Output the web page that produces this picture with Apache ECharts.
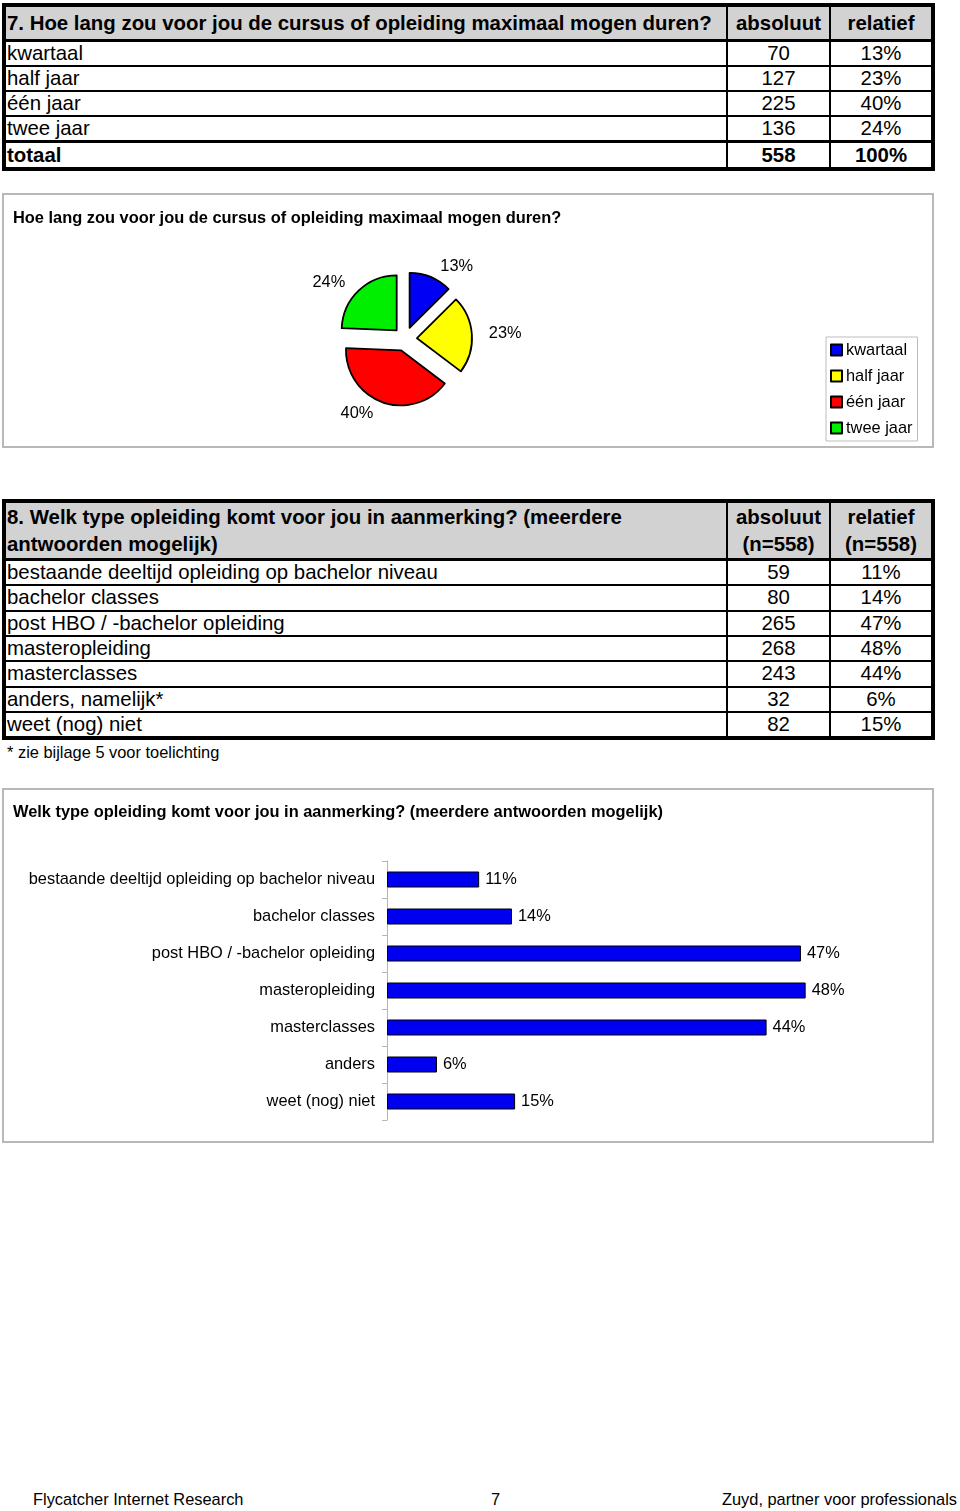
<!DOCTYPE html>
<html>
<head>
<meta charset="utf-8">
<script src="https://cdn.jsdelivr.net/npm/echarts@6/dist/echarts.min.js"></script>
<style>
  html, body { margin:0; padding:0; background:#fff; }
  body { width:960px; height:1511px; position:relative; font-family:"Liberation Sans", Arial, Helvetica, sans-serif; color:#000; }
  table.t { position:absolute; left:2px; width:933px; border-collapse:collapse; table-layout:fixed; border:4px solid #000; font-size:20.4px; }
  table.t td { border:2px solid #000; padding:0 0 0 1px; height:23px; line-height:23px; white-space:nowrap; overflow:hidden; }
  table.t td.n { text-align:center; padding:0; }
  table.t tr.h td { background:#d2d2d2; font-weight:bold; border-bottom:3px solid #000; }
  table.t tr.tot td { font-weight:bold; border-top:3px solid #000; height:24px; line-height:24px; }
  #t2 td { height:23.35px; line-height:23.35px; }
  .box { position:absolute; left:2px; width:928px; border:2px solid #b8b8b8; }
  .note { position:absolute; left:7px; font-size:16.4px; }
  .foot { position:absolute; top:1490px; font-size:16.4px; }
</style>
</head>
<body>
<table class="t" id="t1" style="top:3px"></table>
<div class="box" id="c1" style="top:193px;height:251px"></div>
<table class="t" id="t2" style="top:499px"></table>
<div class="note" style="top:743px">* zie bijlage 5 voor toelichting</div>
<div class="box" id="c2" style="top:788px;height:351px"></div>
<div class="foot" style="left:33px">Flycatcher Internet Research</div>
<div class="foot" style="left:491px">7</div>
<div class="foot" style="right:3px">Zuyd, partner voor professionals</div>
<script>
// ---- data: question 7 ----
var title1 = '7. Hoe lang zou voor jou de cursus of opleiding maximaal mogen duren?';
var chartTitle1 = 'Hoe lang zou voor jou de cursus of opleiding maximaal mogen duren?';
var categories1 = ['kwartaal', 'half jaar', 'één jaar', 'twee jaar'];
var absoluut1 = [70, 127, 225, 136];
var relatief1 = [13, 23, 40, 24];
var totaalAbs1 = 558;
var totaalRel1 = 100;
var colors1 = ['#0000f4', '#ffff00', '#ff0000', '#00ee00'];

// ---- data: question 8 ----
var title2a = '8. Welk type opleiding komt voor jou in aanmerking? (meerdere';
var title2b = 'antwoorden mogelijk)';
var chartTitle2 = 'Welk type opleiding komt voor jou in aanmerking? (meerdere antwoorden mogelijk)';
var tableLabels2 = ['bestaande deeltijd opleiding op bachelor niveau', 'bachelor classes', 'post HBO / -bachelor opleiding', 'masteropleiding', 'masterclasses', 'anders, namelijk*', 'weet (nog) niet'];
var barLabels2 = ['bestaande deeltijd opleiding op bachelor niveau', 'bachelor classes', 'post HBO / -bachelor opleiding', 'masteropleiding', 'masterclasses', 'anders', 'weet (nog) niet'];
var absoluut2 = [59, 80, 265, 268, 243, 32, 82];
var relatief2 = [11, 14, 47, 48, 44, 6, 15];
var n2 = 558;

// ---- tables ----
function row(cls, cells) {
  var h = '<tr' + (cls ? ' class="' + cls + '"' : '') + '>';
  cells.forEach(function (c, i) { h += '<td' + (i > 0 ? ' class="n"' : '') + (c[1] ? ' style="' + c[1] + '"' : '') + '>' + c[0] + '</td>'; });
  return h + '</tr>';
}
var colg = '<colgroup><col style="width:723px"><col style="width:103px"><col style="width:103px"></colgroup>';
var h1 = colg + row('h', [[title1, 'height:32px;line-height:32px'], ['absoluut'], ['relatief']]);
categories1.forEach(function (c, i) { h1 += row('', [[c], [absoluut1[i]], [relatief1[i] + '%']]); });
h1 += row('tot', [['totaal'], [totaalAbs1], [totaalRel1 + '%']]);
document.getElementById('t1').innerHTML = h1;

var hs = 'height:55px;line-height:27px';
var h2 = colg + row('h', [[title2a + '<br>' + title2b, hs], ['absoluut<br>(n=' + n2 + ')', hs], ['relatief<br>(n=' + n2 + ')', hs]]);
tableLabels2.forEach(function (c, i) { h2 += row('', [[c], [absoluut2[i]], [relatief2[i] + '%']]); });
document.getElementById('t2').innerHTML = h2;

var FONT = '"Liberation Sans", Arial, Helvetica, sans-serif';
var FS = 16.4;

// ---- pie chart ----
var c1 = echarts.init(document.getElementById('c1'));
c1.setOption({
  animation: false,
  textStyle: { fontFamily: FONT },
  title: { text: chartTitle1, left: 9, top: 15, padding: 0, textStyle: { fontFamily: FONT, fontSize: FS, fontWeight: 'bold', color: '#000' } },
  legend: {
    orient: 'vertical', left: 822, top: 142, padding: [5, 5, 5, 4], itemGap: 10,
    itemWidth: 11, itemHeight: 11, icon: 'rect', borderColor: '#bdbdbd', borderWidth: 1,
    textStyle: { fontFamily: FONT, fontSize: FS, color: '#000', padding: [0, 0, 0, -1] },
    data: categories1
  },
  series: [{
    type: 'pie', center: [401, 144], radius: 55, startAngle: 90, clockwise: true,
    selectedMode: 'multiple', selectedOffset: 12, avoidLabelOverlap: false,
    itemStyle: { borderColor: '#000', borderWidth: 1.8 },
    label: { show: true, position: 'outside', fontSize: FS, color: '#000', fontFamily: FONT,
      formatter: function (p) { return relatief1[p.dataIndex] + '%'; } },
    labelLine: { show: false, length: 12, length2: 0 },
    emphasis: { disabled: true },
    data: categories1.map(function (c, i) { return { name: c, value: absoluut1[i], selected: true, itemStyle: { color: colors1[i] } }; })
  }]
});

// ---- bar chart ----
var c2 = echarts.init(document.getElementById('c2'));
c2.setOption({
  animation: false,
  textStyle: { fontFamily: FONT },
  title: { text: chartTitle2, left: 9, top: 14, padding: 0, textStyle: { fontFamily: FONT, fontSize: FS, fontWeight: 'bold', color: '#000' } },
  grid: { left: 383, top: 71, width: 523, height: 259 },
  xAxis: { type: 'value', min: 0, max: 60, show: false },
  yAxis: {
    type: 'category', inverse: true, data: barLabels2,
    axisLine: { show: true, lineStyle: { color: '#b5b5b5', width: 1 } },
    axisTick: { show: true, length: 5, lineStyle: { color: '#b5b5b5' } },
    axisLabel: { fontSize: FS, color: '#000', margin: 12, fontFamily: FONT }
  },
  series: [{
    type: 'bar', barWidth: 16,
    itemStyle: { color: '#0000f0', borderColor: '#000', borderWidth: 1 },
    label: { show: true, position: 'right', distance: 6, fontSize: FS, color: '#000', fontFamily: FONT,
      formatter: function (p) { return relatief2[p.dataIndex] + '%'; } },
    emphasis: { disabled: true },
    data: absoluut2.map(function (v) { return v / n2 * 100; })
  }]
});
</script>
</body>
</html>
